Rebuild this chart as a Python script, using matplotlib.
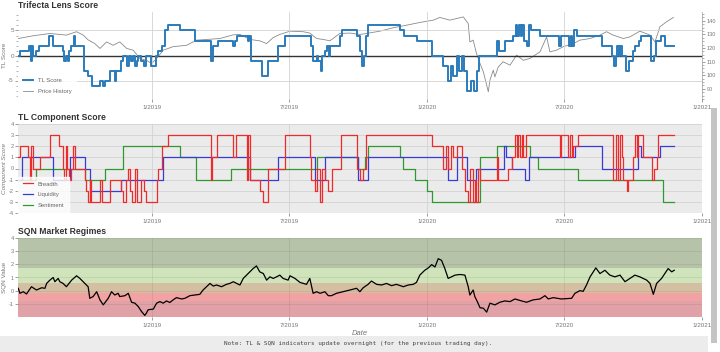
import matplotlib
matplotlib.use("Agg")
import matplotlib.pyplot as plt
from matplotlib.patches import Rectangle
from matplotlib.lines import Line2D
from matplotlib.ticker import MultipleLocator

plt.rcParams['font.family'] = ['Liberation Sans', 'DejaVu Sans']
plt.rcParams['axes.unicode_minus'] = False

# ---- data (x in decimal years) ----
tick_pos = [2019.0, 2019.5, 2020.0, 2020.5, 2021.0]
tick_labels = ['1/2019', '7/2019', '1/2020', '7/2020', '1/2021']

tl_dates = [2018.514, 2018.522, 2018.554, 2018.559, 2018.563, 2018.568, 2018.578, 2018.590,
            2018.626, 2018.641, 2018.677, 2018.682, 2018.688, 2018.694, 2018.700, 2018.706,
            2018.715, 2018.720, 2018.752, 2018.769, 2018.782, 2018.811, 2018.823, 2018.828,
            2018.847, 2018.865, 2018.870, 2018.889, 2018.895, 2018.910, 2018.915, 2018.923,
            2018.932, 2018.938, 2018.944, 2018.950, 2018.962, 2018.971, 2018.977, 2018.995,
            2019.014, 2019.023, 2019.038, 2019.046, 2019.059, 2019.102, 2019.155, 2019.216,
            2019.222, 2019.241, 2019.296, 2019.303, 2019.310, 2019.350, 2019.354, 2019.359,
            2019.399, 2019.423, 2019.459, 2019.483, 2019.580, 2019.586, 2019.599, 2019.605,
            2019.613, 2019.620, 2019.629, 2019.637, 2019.645, 2019.649, 2019.683, 2019.692,
            2019.744, 2019.756, 2019.765, 2019.771, 2019.777, 2019.786, 2019.902, 2019.916,
            2019.962, 2020.017, 2020.059, 2020.075, 2020.089, 2020.096, 2020.111, 2020.117,
            2020.126, 2020.134, 2020.144, 2020.159, 2020.172, 2020.183, 2020.189, 2020.253,
            2020.262, 2020.283, 2020.314, 2020.322, 2020.328, 2020.334, 2020.342, 2020.346,
            2020.351, 2020.362, 2020.372, 2020.378, 2020.411, 2020.481, 2020.487, 2020.517,
            2020.522, 2020.527, 2020.534, 2020.544, 2020.635, 2020.671, 2020.680, 2020.686,
            2020.692, 2020.697, 2020.702, 2020.709, 2020.722, 2020.733, 2020.750, 2020.756,
            2020.772, 2020.779, 2020.813, 2020.825, 2020.833, 2020.851, 2020.865, 2020.898]
tl_score = [0, 1, 2, -1, 2, 0, 1, 2,
            4, 2, 1, -1, 0, -1, 1, 2,
            4, 2, -3, -4, -6, -5, -6, -5,
            -3, -5, -3, -1, 0, -2, 0, -1,
            0, -2, -1, 0, -1, -2, 0, -2,
            0, 1, 2, 5, 6, 5, 3, -1,
            2, 3, 2, 3, 4, 3, 4, -1,
            -4, -1, 2, 4, 2, -1, 0, -1,
            -3, 0, 1, 2, 0, 2, 4, 5,
            4, 1, -2, 0, 4, 6, 5, 4,
            3, 0, -2, -5, -2, -4, 0, -3,
            0, -3, -7, -5, -7, -3, 0, 3,
            1, 3, 4, 6, 4, 6, 4, 6,
            3, 2, 6, 5, 4, 2, 4, 2,
            4, 2, 5, 4, 2, 0, -2, 0,
            2, 0, 2, 0, -3, -1, 1, 2,
            3, 4, -1, 0, 3, 4, 2, 2]

price_dates = [2018.514, 2018.568, 2018.629, 2018.689, 2018.726, 2018.750, 2018.768, 2018.792,
               2018.811, 2018.835, 2018.859, 2018.883, 2018.908, 2018.932, 2018.956, 2018.980,
               2018.999, 2019.017, 2019.041, 2019.077, 2019.126, 2019.162, 2019.199, 2019.247,
               2019.296, 2019.320, 2019.356, 2019.392, 2019.417, 2019.441, 2019.465, 2019.502,
               2019.550, 2019.574, 2019.599, 2019.623, 2019.647, 2019.683, 2019.720, 2019.756,
               2019.780, 2019.829, 2019.877, 2019.926, 2019.974, 2020.023, 2020.047, 2020.083,
               2020.108, 2020.132, 2020.150, 2020.156, 2020.168, 2020.180, 2020.193, 2020.205,
               2020.223, 2020.229, 2020.241, 2020.247, 2020.259, 2020.277, 2020.302, 2020.326,
               2020.350, 2020.374, 2020.411, 2020.435, 2020.447, 2020.471, 2020.496, 2020.532,
               2020.556, 2020.593, 2020.629, 2020.653, 2020.677, 2020.714, 2020.738, 2020.774,
               2020.811, 2020.829, 2020.847, 2020.871, 2020.896]
price = [127.0, 129.0, 130.7, 129.5, 132.0, 129.5, 126.0, 123.3,
         119.7, 124.5, 122.0, 124.5, 119.7, 118.4, 112.3, 111.0,
         108.6, 112.3, 118.4, 121.0, 122.0, 125.8, 126.3, 127.0,
         129.7, 130.0, 126.3, 125.3, 123.3, 127.7, 130.0, 132.4,
         132.0, 131.0, 127.0, 126.3, 125.3, 130.7, 131.0, 130.0,
         130.7, 132.4, 134.9, 136.8, 138.8, 140.5, 142.5, 140.5,
         141.7, 142.9, 138.0, 124.5, 125.8, 116.0, 108.6, 102.5,
         87.8, 96.4, 103.7, 98.8, 106.0, 109.9, 107.4, 114.8,
         111.0, 112.3, 117.2, 128.2, 117.2, 118.4, 121.0, 123.3,
         125.8, 127.0, 129.5, 132.0, 129.5, 127.0, 128.2, 132.4,
         129.5, 124.5, 135.6, 139.3, 142.5]

breadth_dates = [2018.514, 2018.520, 2018.550, 2018.556, 2018.562, 2018.568, 2018.592, 2018.629,
                 2018.663, 2018.677, 2018.681, 2018.686, 2018.692, 2018.697, 2018.704, 2018.714,
                 2018.720, 2018.756, 2018.760, 2018.768, 2018.774, 2018.780, 2018.811, 2018.818,
                 2018.847, 2018.889, 2018.895, 2018.905, 2018.914, 2018.920, 2018.929, 2018.937,
                 2018.944, 2018.962, 2018.971, 2018.980, 2019.017, 2019.023, 2019.038, 2019.059,
                 2019.214, 2019.220, 2019.235, 2019.296, 2019.305, 2019.344, 2019.350, 2019.356,
                 2019.392, 2019.405, 2019.423, 2019.483, 2019.574, 2019.580, 2019.592, 2019.599,
                 2019.611, 2019.618, 2019.629, 2019.641, 2019.653, 2019.689, 2019.744, 2019.756,
                 2019.768, 2019.780, 2020.017, 2020.059, 2020.071, 2020.077, 2020.087, 2020.096,
                 2020.108, 2020.126, 2020.138, 2020.150, 2020.156, 2020.168, 2020.174, 2020.180,
                 2020.186, 2020.193, 2020.253, 2020.260, 2020.296, 2020.308, 2020.320, 2020.326,
                 2020.332, 2020.338, 2020.344, 2020.350, 2020.360, 2020.483, 2020.489, 2020.514,
                 2020.520, 2020.526, 2020.532, 2020.550, 2020.677, 2020.689, 2020.696, 2020.702,
                 2020.708, 2020.714, 2020.726, 2020.732, 2020.750, 2020.756, 2020.765, 2020.768,
                 2020.786, 2020.817, 2020.825, 2020.835, 2020.841, 2020.898]
breadth = [1, 2, 1, -1, 2, 0, 1, 3,
           2, 0, -1, 2, 0, -1, 0, 2,
           0, -1, -2, -3, -1, -3, -1, -3,
           -1, -2, -3, -1, 0, -2, -3, 0,
           -3, -1, -2, -3, -1, 0, 2, 3,
           -1, 1, 3, 1, 3, -1, 3, -1,
           -2, -3, 0, 3, 1, -1, -2, 0,
           -3, 0, -1, -2, 0, 3, 0, -1,
           0, 3, 2, 0, 2, 0, 2, 1,
           2, 0, -2, -3, 0, -3, -1, -3,
           0, -1, 1, -1, 0, 1, 3, 1,
           3, 1, 3, 1, 3, 1, 3, 1,
           3, 1, 2, 3, -1, 3, -1, 3,
           1, -1, -2, -1, 1, 3, 1, 3,
           1, -1, 0, 1, 3, 3]

liq_dates = [2018.514, 2018.526, 2018.641, 2018.702, 2018.756, 2018.774, 2018.889, 2019.041,
             2019.356, 2019.459, 2019.592, 2019.629, 2019.750, 2019.786, 2020.077, 2020.108,
             2020.144, 2020.180, 2020.280, 2020.289, 2020.308, 2020.356, 2020.372, 2020.538,
             2020.635, 2020.768, 2020.780, 2020.847, 2020.898]
liquidity = [-1, 1, -1, 1, 0, -2, -1, 1,
             -1, 1, -1, 1, -1, 1, -1, 1,
             -1, 0, 2, 1, 0, -1, 1, 2,
             0, 2, 1, 2, 2]

sent_dates = [2018.514, 2018.580, 2018.756, 2018.829, 2018.893, 2019.102, 2019.162, 2019.289,
              2019.599, 2019.750, 2019.774, 2019.786, 2019.902, 2019.914, 2019.956, 2019.999,
              2020.017, 2020.193, 2020.253, 2020.374, 2020.405, 2020.550, 2020.859, 2020.898]
sentiment = [-1, 0, -1, 0, 2, 1, -1, 0,
             1, 0, 1, 2, 1, 0, -1, -2,
             -3, 1, 2, 1, 0, -1, -3, -3]

sqn_dates = [2018.514, 2018.520, 2018.532, 2018.544, 2018.562, 2018.580, 2018.599, 2018.611,
             2018.617, 2018.629, 2018.641, 2018.647, 2018.659, 2018.665, 2018.677, 2018.689,
             2018.708, 2018.726, 2018.738, 2018.756, 2018.768, 2018.774, 2018.786, 2018.799,
             2018.811, 2018.823, 2018.841, 2018.853, 2018.865, 2018.877, 2018.883, 2018.902,
             2018.914, 2018.926, 2018.938, 2018.950, 2018.962, 2018.974, 2018.980, 2018.986,
             2019.005, 2019.017, 2019.029, 2019.041, 2019.053, 2019.065, 2019.077, 2019.089,
             2019.108, 2019.120, 2019.138, 2019.156, 2019.174, 2019.186, 2019.211, 2019.223,
             2019.235, 2019.253, 2019.271, 2019.283, 2019.296, 2019.308, 2019.320, 2019.332,
             2019.344, 2019.356, 2019.368, 2019.380, 2019.392, 2019.405, 2019.417, 2019.429,
             2019.441, 2019.453, 2019.465, 2019.477, 2019.495, 2019.502, 2019.520, 2019.538,
             2019.562, 2019.574, 2019.586, 2019.599, 2019.611, 2019.629, 2019.641, 2019.653,
             2019.671, 2019.695, 2019.720, 2019.744, 2019.756, 2019.768, 2019.786, 2019.798,
             2019.817, 2019.835, 2019.853, 2019.871, 2019.889, 2019.914, 2019.932, 2019.950,
             2019.962, 2019.974, 2019.992, 2020.005, 2020.017, 2020.029, 2020.041, 2020.053,
             2020.065, 2020.077, 2020.089, 2020.102, 2020.120, 2020.138, 2020.150, 2020.156,
             2020.168, 2020.174, 2020.183, 2020.193, 2020.205, 2020.217, 2020.229, 2020.247,
             2020.265, 2020.283, 2020.302, 2020.320, 2020.344, 2020.362, 2020.386, 2020.411,
             2020.429, 2020.441, 2020.459, 2020.489, 2020.526, 2020.538, 2020.556, 2020.568,
             2020.580, 2020.593, 2020.605, 2020.614, 2020.629, 2020.647, 2020.665, 2020.683,
             2020.702, 2020.720, 2020.738, 2020.756, 2020.774, 2020.799, 2020.811, 2020.823,
             2020.835, 2020.853, 2020.865, 2020.877, 2020.890, 2020.899]
sqn = [0.18, -0.2, -0.08, -0.25, 0.3, 0.05, 0.22, 0.18,
       0.55, 0.8, 1.0, 0.68, 0.93, 0.68, 0.55, 0.3,
       0.8, 1.13, 0.93, 0.55, 0.3, -0.58, -0.45, -0.08,
       -0.7, -1.08, -0.58, -0.08, -0.33, -0.2, -0.45, -0.38,
       -0.2, -0.88, -0.95, -1.2, -1.58, -1.88, -1.7, -1.45,
       -1.4, -0.95, -0.83, -0.95, -0.78, -0.9, -0.7, -0.53,
       -0.63, -0.58, -0.38, -0.33, -0.28, 0.05, 0.55, 0.35,
       0.43, 0.3, 0.48, 0.55, 0.68, 0.55, 0.43, 0.93,
       1.18, 1.43, 1.68, 1.88, 1.43, 1.3, 0.8, 1.05,
       0.93, 1.05, 1.18, 0.93, 0.8, 1.13, 0.93, 0.63,
       0.48, 0.93, -0.2, -0.08, -0.2, -0.08, -0.38, -0.38,
       -0.2, -0.08, 0.05, 0.18, -0.08, 0.22, 0.48, 0.73,
       0.48, 0.43, 0.55, 0.38, 0.48, 0.3, 0.43, 0.48,
       0.63, 1.18, 1.55, 1.73, 1.98, 1.8, 2.43, 2.3,
       1.68, 0.93, 1.05, 1.18, 1.23, 1.18, 0.3, -0.33,
       0.05, -0.45, -0.83, -1.3, -1.33, -1.63, -0.95, -1.08,
       -0.88, -0.78, -0.83, -0.63, -0.78, -0.88, -0.7, -0.63,
       -0.38, -0.63, -0.53, -0.63, -0.58, -0.2, 0.0, -0.05,
       0.43, 1.05, 1.43, 1.73, 1.3, 1.55, 1.18, 1.05,
       1.18, 0.68, 0.93, 1.18, 1.05, 0.8, 0.55, -0.28,
       0.55, 0.93, 1.3, 1.68, 1.43, 1.55]

# SQN regime bands (upper edge -> lower edge)
regime_edges = [4.0, 1.7, 0.6, -0.2, -0.8, -2.0]
regime_colors = ['#b6c3a9', '#d0e4bb', '#d5bfa2', '#f2a2a2', '#e0a2a6']

# ---- figure ----
BG = '#ebebeb'
GRID = '#d2d2d2'
TXT = '#777777'
X0, X1 = 2018.513, 2021.0

fig = plt.figure(figsize=(7.2, 3.52), dpi=100)


def style_axes(ax):
    ax.set_xlim(X0, X1)
    ax.set_facecolor(BG)
    for s in ax.spines.values():
        s.set_visible(False)
    ax.set_xticks(tick_pos)
    ax.set_xticklabels(tick_labels)
    ax.tick_params(labelsize=4.5, colors=TXT, length=2, width=0.5, pad=2)
    ax.tick_params(axis='y', pad=1)
    ax.grid(True, color=GRID, linewidth=0.6)


def set_ylabel(ax, text, **kw):
    ax.set_ylabel(text, fontsize=4.6, color=TXT, **kw)
    ax.yaxis.set_label_coords(-11 / 684, 0.5)


def panel_title(y_px, text):
    fig.text(18 / 720, 1 - y_px / 352, text, fontsize=6.2, fontweight='bold',
             color='#333333', va='center', ha='left')


# panel 1: TL score + price history
ax1 = fig.add_axes([18 / 720, 1 - 99 / 352, 684 / 720, 87 / 352])
ax1b = ax1.twinx()
style_axes(ax1)
ax1.set_zorder(ax1b.get_zorder() + 1)
ax1.patch.set_visible(False)
ax1b.set_facecolor(BG)
for s in ax1b.spines.values():
    s.set_visible(False)
ax1b.spines['right'].set_visible(True)
ax1b.spines['right'].set_color('#999999')
ax1b.spines['right'].set_linewidth(0.5)
ax1.set_ylim(-8.7, 8.7)
ax1.set_yticks([-5, 0, 5])
ax1.yaxis.set_minor_locator(MultipleLocator(1))
ax1.tick_params(axis='y', which='minor', length=1.5, width=0.4, colors=TXT)
set_ylabel(ax1, 'TL Score')
ax1b.set_ylim(82.5, 146.5)
ax1b.set_yticks([90, 100, 110, 120, 130, 140])
ax1b.yaxis.set_minor_locator(MultipleLocator(2.5))
ax1b.tick_params(axis='y', labelsize=4, colors=TXT, length=2, width=0.5, pad=1.5)
ax1b.tick_params(axis='y', which='minor', length=1.2, width=0.4, colors=TXT)

ax1b.plot(price_dates, price, color='#8a8a8a', linewidth=0.6)
ax1.axhline(0, color='#333333', linewidth=1.0, zorder=2)
ax1.step(tl_dates, tl_score, where='post', color='#2b7bba', linewidth=1.4, zorder=3)
h1 = [Line2D([], [], color='#2b7bba', linewidth=1.4),
      Line2D([], [], color='#8a8a8a', linewidth=0.6)]
leg1 = ax1.legend(h1, ['TL Score', 'Price History'], loc='lower left', fontsize=4.2,
                  frameon=True, fancybox=False, borderpad=0.8, handlelength=1.8,
                  labelspacing=1.0, borderaxespad=0.0)
leg1.get_frame().set_facecolor('white')
leg1.get_frame().set_edgecolor('white')
for t in leg1.get_texts():
    t.set_color('#666666')
panel_title(5, 'Trifecta Lens Score')

# panel 2: component scores
ax2 = fig.add_axes([18 / 720, 1 - 213 / 352, 684 / 720, 89 / 352])
style_axes(ax2)
ax2.set_ylim(-4, 4)
ax2.set_yticks(range(-4, 5))
ax2.tick_params(axis='y', labelsize=4)
set_ylabel(ax2, 'Component Score', style='italic')
ax2.step(sent_dates, sentiment, where='post', color='#2e9a2e', linewidth=0.9, label='Sentiment')
ax2.step(liq_dates, liquidity, where='post', color='#3a3ad6', linewidth=0.9, label='Liquidity')
ax2.step(breadth_dates, breadth, where='post', color='#ee2a2a', linewidth=0.9, label='Breadth')
hs, ls = ax2.get_legend_handles_labels()
leg2 = ax2.legend(hs[::-1], ls[::-1], loc='lower left', fontsize=4.2, frameon=True,
                  fancybox=False, borderpad=0.8, handlelength=1.8, labelspacing=1.0,
                  borderaxespad=0.0)
leg2.get_frame().set_facecolor('white')
leg2.get_frame().set_edgecolor('white')
for t in leg2.get_texts():
    t.set_color('#666666')
panel_title(117, 'TL Component Score')

# panel 3: SQN regimes
ax3 = fig.add_axes([18 / 720, 1 - 317 / 352, 684 / 720, 79 / 352])
style_axes(ax3)
ax3.set_axisbelow(False)
ax3.set_ylim(-2, 4)
ax3.set_yticks([-1, 0, 1, 2, 3, 4])
ax3.tick_params(axis='y', labelsize=4)
for top, bot, c in zip(regime_edges[:-1], regime_edges[1:], regime_colors):
    ax3.axhspan(bot, top, color=c, zorder=0.5, linewidth=0)
ax3.grid(True, color='#000000', alpha=0.08, linewidth=0.6)
ax3.plot(sqn_dates, sqn, color='black', linewidth=0.9, zorder=3)
set_ylabel(ax3, 'SQN Value')
ax3.set_xlabel('Date', fontsize=5.5, color=TXT, style='italic', labelpad=2)
panel_title(232, 'SQN Market Regimes')

# footer note and scrollbar
fig.patches.append(Rectangle((0, 0), 708 / 720, 16 / 352, transform=fig.transFigure,
                             facecolor='#ececec', edgecolor='none', zorder=0))
fig.text(358 / 720, 1 - 344 / 352,
         'Note: TL & SQN indicators update overnight (for the previous trading day).',
         fontsize=4.3, family='DejaVu Sans Mono', color='#444444', ha='center', va='center')
fig.patches.append(Rectangle((711 / 720, 9 / 352), 6 / 720, 235 / 352, transform=fig.transFigure,
                             facecolor='#c4c4c4', edgecolor='none'))

fig.savefig('out.png', dpi=100, facecolor='white')
